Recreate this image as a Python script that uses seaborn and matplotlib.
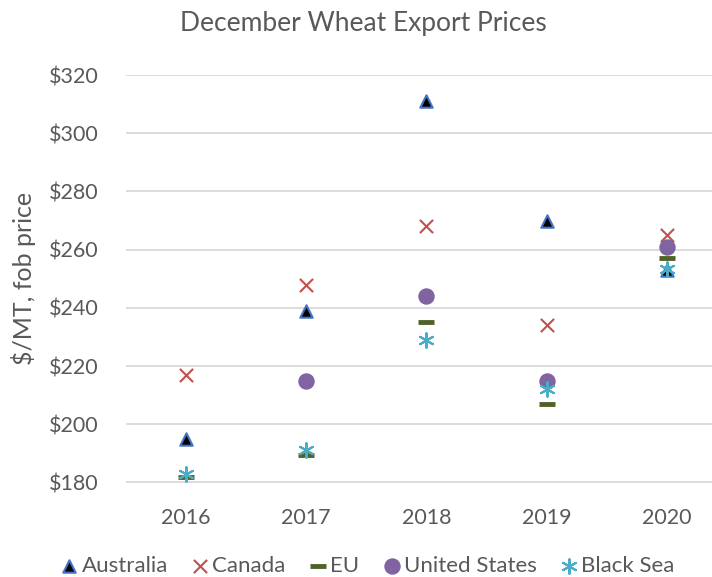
import matplotlib
matplotlib.use("Agg")
import matplotlib.pyplot as plt
import seaborn as sns
import pandas as pd
import numpy as np

years = ["2016", "2017", "2018", "2019", "2020"]
australia = [195, 239, 311, 270, 253]
canada = [217, 248, 268, 234, 265]
eu = [182, 189.5, 235, 207, 257]
united_states = [np.nan, 215, 244, 215, 261]
black_sea = [183, 191, 229, 212, 253.5]

series = ["Australia", "Canada", "EU", "United States", "Black Sea"]
values = [australia, canada, eu, united_states, black_sea]

rows = []
for name, vals in zip(series, values):
    for i, (y, v) in enumerate(zip(years, vals)):
        rows.append({"series": name, "year": y, "pos": i, "price": v})
df = pd.DataFrame(rows)

sns.set_theme(style="white")
plt.rcParams["font.family"] = ["Lato", "DejaVu Sans"]
txt = "#595959"

fig = plt.figure(figsize=(7.12, 5.77), dpi=100)
ax = fig.add_axes([126/712, 1 - 482.5/577, 601/712, (482.5 - 75)/577])

styles = {
    "Australia": dict(marker="^", s=80, color="black", edgecolor="#4472C4", linewidth=1.5),
    "Canada": dict(marker="x", s=90, color="#C0504D", linewidth=1.5),
    "EU": dict(marker="_", s=120, color="#4F6228", linewidth=3.5),
    "United States": dict(marker="o", s=140, color="#8064A2", linewidth=0),
    "Black Sea": dict(marker=(6, 2, 0), s=110, color="#4BACC6", linewidth=1.5),
}

for k, name in enumerate(series):
    sub = df[df["series"] == name]
    sns.scatterplot(data=sub, x="pos", y="price", ax=ax, label=name, zorder=3 + k,
                    legend=True, **styles[name])

ax.set_xlim(-0.5, 4.5)
ax.set_ylim(180, 320)
ax.set_xticks(range(len(years)))
ax.set_xticklabels(years)
yt = np.arange(180, 321, 20)
ax.set_yticks(yt)
ax.set_yticklabels([f"${v}" for v in yt])
ax.tick_params(axis="both", length=0, labelsize=15.5, colors=txt)
ax.tick_params(axis="y", pad=20)
ax.tick_params(axis="x", pad=18)
ax.grid(axis="y", color="#D9D9D9", linewidth=1.3)
ax.grid(axis="x", visible=False)
for sp in ax.spines.values():
    sp.set_visible(False)
ax.set_xlabel("")
ax.set_ylabel("$/MT, fob price", fontsize=18, color=txt, labelpad=9)

fig.text(363/712, 1 - 24/577, "December Wheat Export Prices", ha="center", va="center",
         fontsize=19, color=txt)

handles, labels = ax.get_legend_handles_labels()
ax.get_legend().remove()
fig.legend(handles, labels, loc="center", bbox_to_anchor=(368/712, 1 - 566/577), ncol=5,
           frameon=False, fontsize=16, labelcolor=txt, handletextpad=0.2,
           columnspacing=1.1, handlelength=0.7, borderaxespad=0)

fig.savefig("out.png", dpi=100)
